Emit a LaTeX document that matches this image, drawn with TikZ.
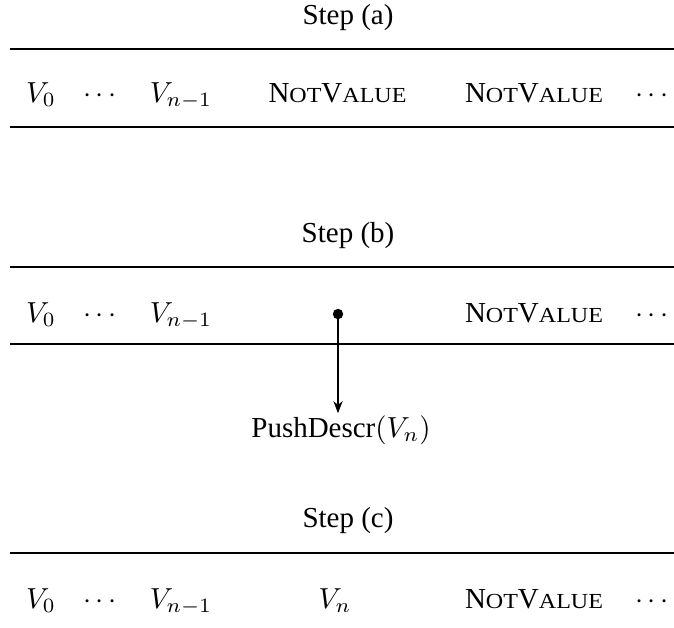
\documentclass[tikz,border=0pt]{standalone}
\usepackage{fontspec}
\setmainfont{Liberation Serif}
\usetikzlibrary{arrows.meta}
\newcommand{\smc}[1]{\scalebox{1.12}[1]{\fontsize{7.4}{9}\selectfont #1}}
\newcommand{\NV}{N\smc{OT}V\smc{ALUE}}
\tikzset{
  lbl/.style={anchor=base, inner sep=0pt, font=\fontsize{10}{12}\selectfont},
  rule/.style={line width=0.8pt},
  ptr/.style={line width=0.4pt, -{Stealth[length=4.2pt,width=3.2pt]}},
}
\begin{document}
\begin{tikzpicture}[x=0.345pt,y=-0.345pt]
\useasboundingbox (0,0) rectangle (674,627);
% Step (a)
\node[lbl] (sa) at (348,24) {Step (a)};
\coordinate (a1l) at (10,49); \coordinate (a1r) at (674,49);
\coordinate (a2l) at (10,127); \coordinate (a2r) at (674,127);
\draw[rule] (a1l) -- (a1r);
\draw[rule] (a2l) -- (a2r);
\node[lbl] (a0) at (41,102) {$V_0$};
\node[lbl] (ad) at (100,102) {$\cdots$};
\node[lbl] (an) at (181,102) {$V_{n-1}$};
\node[lbl] (anv1) at (337.5,102) {\NV};
\node[lbl] (anv2) at (534,102) {\NV};
\node[lbl] (ae) at (652,102) {$\cdots$};
% Step (b)
\node[lbl] (sb) at (348,242) {Step (b)};
\coordinate (b1l) at (10,267); \coordinate (b1r) at (674,267);
\coordinate (b2l) at (10,344); \coordinate (b2r) at (674,344);
\draw[rule] (b1l) -- (b1r);
\draw[rule] (b2l) -- (b2r);
\node[lbl] (b0) at (41,322) {$V_0$};
\node[lbl] (bd) at (100,322) {$\cdots$};
\node[lbl] (bn) at (181,322) {$V_{n-1}$};
\node[circle, fill=black, inner sep=0pt, minimum size=3.6pt] (dot) at (338,314) {};
\node[lbl] (bnv) at (534,322) {\NV};
\node[lbl] (be) at (652,322) {$\cdots$};
\node[lbl] (push) at (341,437) {PushDescr$(V_n)$};
\draw[ptr] (dot.center) -- ([yshift=0.5pt]push.north -| dot.center);
% Step (c)
\node[lbl] (sc) at (348,527) {Step (c)};
\coordinate (c1l) at (10,553); \coordinate (c1r) at (674,553);
\draw[rule] (c1l) -- (c1r);
\node[lbl] (c0) at (41,608) {$V_0$};
\node[lbl] (cd) at (100,608) {$\cdots$};
\node[lbl] (cn) at (181,608) {$V_{n-1}$};
\node[lbl] (cvn) at (335,608) {$V_n$};
\node[lbl] (cnv) at (534,608) {\NV};
\node[lbl] (ce) at (652,608) {$\cdots$};
\end{tikzpicture}
\end{document}
